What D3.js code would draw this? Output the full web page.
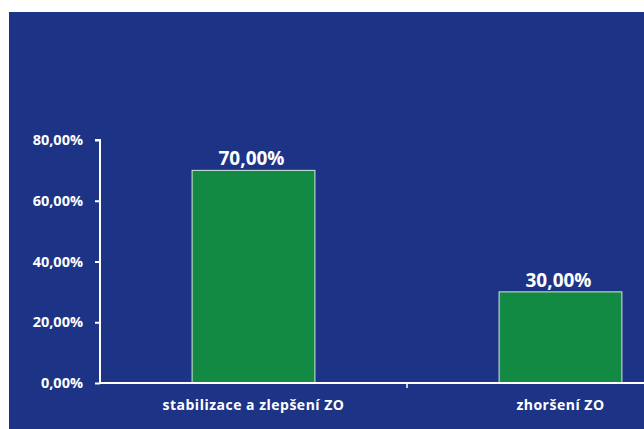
<!DOCTYPE html>
<html>
<head>
<meta charset="utf-8">
<script src="https://cdn.jsdelivr.net/npm/d3@7"></script>
<style>
  html, body { margin: 0; padding: 0; background: #ffffff; }
  svg { display: block; }
  text { font-family: "Open Sans", sans-serif; font-weight: 700; fill: #ffffff; }
</style>
</head>
<body>
<script>
// Share of outcomes by category
const categories = ["stabilizace a zlepšení ZO", "zhoršení ZO"];
const values = [70, 30];
const valueLabels = ["70,00%", "30,00%"];
const yTicks = [0, 20, 40, 60, 80];
const yTickLabels = ["0,00%", "20,00%", "40,00%", "60,00%", "80,00%"];

const W = 644, H = 429;
const svg = d3.select("body").append("svg").attr("width", W).attr("height", H);

// panel background
svg.append("rect").attr("x", 9).attr("y", 12).attr("width", W - 9).attr("height", H - 12)
  .attr("fill", "#1d3386");

const plot = { left: 100, top: 140, bottom: 383, right: 714 };

const x = d3.scaleBand().domain(categories).range([plot.left, plot.right])
  .paddingInner(0).paddingOuter(0);
const y = d3.scaleLinear().domain([0, 80]).range([plot.bottom, plot.top]);
const barW = x.bandwidth() * 0.4;

// bars
svg.selectAll("rect.bar").data(categories).join("rect")
  .attr("class", "bar")
  .attr("x", d => x(d) + (x.bandwidth() - barW) / 2)
  .attr("y", (d, i) => y(values[i]))
  .attr("width", barW)
  .attr("height", (d, i) => y(0) - y(values[i]))
  .attr("fill", "#128a43")
  .attr("stroke", "#d9e6dc")
  .attr("stroke-width", 1);

// value labels
svg.selectAll("text.val").data(categories).join("text")
  .attr("class", "val")
  .attr("x", d => x(d) + x.bandwidth() / 2 - 2)
  .attr("y", (d, i) => y(values[i]) - 5)
  .attr("text-anchor", "middle")
  .attr("font-size", 19)
  .text((d, i) => valueLabels[i]);

// y axis
const yAxis = d3.axisLeft(y).tickValues(yTicks).tickSize(5).tickPadding(12)
  .tickFormat((d, i) => yTickLabels[i]);
const gy = svg.append("g").attr("transform", `translate(${plot.left},0)`).call(yAxis);
gy.select(".domain").attr("stroke", "#ffffff").attr("stroke-width", 2)
  .attr("d", `M-5,${plot.top}H0V${plot.bottom}`);
gy.selectAll(".tick line").attr("stroke", "#ffffff").attr("stroke-width", 2);
gy.selectAll(".tick text").attr("font-size", 14.5).attr("fill", "#ffffff")
  .attr("font-family", "Open Sans, sans-serif").attr("font-weight", 700);

// x axis
const xAxis = d3.axisBottom(x).tickSize(0).tickPadding(17);
const gx = svg.append("g").attr("transform", `translate(0,${plot.bottom})`).call(xAxis);
gx.select(".domain").attr("stroke", "#ffffff").attr("stroke-width", 2)
  .attr("d", `M${plot.left},0H${W}`);
gx.selectAll(".tick text").attr("font-size", 14).attr("fill", "#ffffff")
  .attr("letter-spacing", 0.5)
  .attr("font-family", "Open Sans, sans-serif").attr("font-weight", 700);
// separators between categories
gx.selectAll("line.sep").data(categories.slice(1)).join("line")
  .attr("class", "sep")
  .attr("x1", d => x(d)).attr("x2", d => x(d))
  .attr("y1", 0).attr("y2", 5)
  .attr("stroke", "#ffffff").attr("stroke-width", 1.5);
</script>
</body>
</html>
